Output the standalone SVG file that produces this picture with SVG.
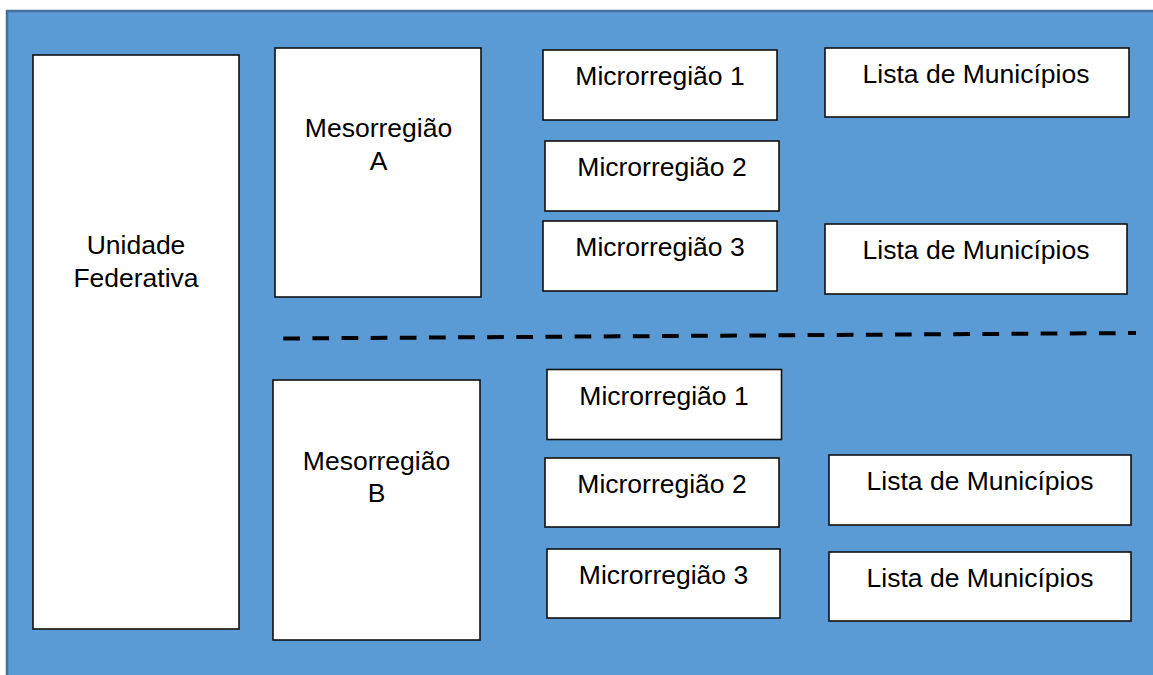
<svg xmlns="http://www.w3.org/2000/svg" width="1153" height="675" viewBox="0 0 1153 675">
  <style>
    .panel { fill: #5b9bd5; stroke: #41719c; stroke-width: 2.5; }
    .box { fill: #ffffff; stroke: #111111; stroke-width: 1.6; }
    .label { font-family: "Liberation Sans", Arial, sans-serif; font-size: 26.5px; fill: #000000; text-anchor: middle; }
    .divider { stroke: #000000; stroke-width: 4; stroke-dasharray: 16.7 12.43; fill: none; }
  </style>

  <!-- background panel -->
  <rect class="panel" x="7" y="11" width="1160" height="680"/>

  <g id="unidade-federativa">
    <rect class="box" x="33" y="55" width="206" height="574"/>
    <text class="label" x="136" y="254">Unidade</text>
    <text class="label" x="136" y="287">Federativa</text>
  </g>

  <g id="mesorregiao-a">
    <rect class="box" x="275" y="48" width="206" height="249"/>
    <text class="label" x="378.5" y="137">Mesorregião</text>
    <text class="label" x="378.5" y="170">A</text>
  </g>

  <g id="mesorregiao-b">
    <rect class="box" x="273" y="380" width="207" height="260"/>
    <text class="label" x="376.5" y="470">Mesorregião</text>
    <text class="label" x="376.5" y="502">B</text>
  </g>

  <g id="micro-a1">
    <rect class="box" x="543" y="50" width="234" height="70"/>
    <text class="label" x="660" y="85">Microrregião 1</text>
  </g>
  <g id="micro-a2">
    <rect class="box" x="545" y="141" width="234" height="70"/>
    <text class="label" x="662" y="176">Microrregião 2</text>
  </g>
  <g id="micro-a3">
    <rect class="box" x="543" y="221" width="234" height="70"/>
    <text class="label" x="660" y="256">Microrregião 3</text>
  </g>

  <g id="micro-b1">
    <rect class="box" x="547" y="369.5" width="234.5" height="70"/>
    <text class="label" x="664" y="405">Microrregião 1</text>
  </g>
  <g id="micro-b2">
    <rect class="box" x="545" y="458" width="234" height="69"/>
    <text class="label" x="662" y="493">Microrregião 2</text>
  </g>
  <g id="micro-b3">
    <rect class="box" x="547" y="549" width="233" height="69"/>
    <text class="label" x="663.5" y="584">Microrregião 3</text>
  </g>

  <g id="lista-a1">
    <rect class="box" x="825" y="48" width="304" height="69"/>
    <text class="label" x="976" y="83">Lista de Municípios</text>
  </g>
  <g id="lista-a3">
    <rect class="box" x="825" y="224" width="302" height="70"/>
    <text class="label" x="976" y="259">Lista de Municípios</text>
  </g>
  <g id="lista-b2">
    <rect class="box" x="829" y="455" width="302" height="70"/>
    <text class="label" x="980" y="490">Lista de Municípios</text>
  </g>
  <g id="lista-b3">
    <rect class="box" x="829" y="552" width="302" height="69"/>
    <text class="label" x="980" y="587">Lista de Municípios</text>
  </g>

  <g id="connectors">
    <!-- dashed separator between the two mesoregions -->
    <line class="divider" x1="283.3" y1="338.5" x2="1136" y2="333"/>
  </g>
</svg>
